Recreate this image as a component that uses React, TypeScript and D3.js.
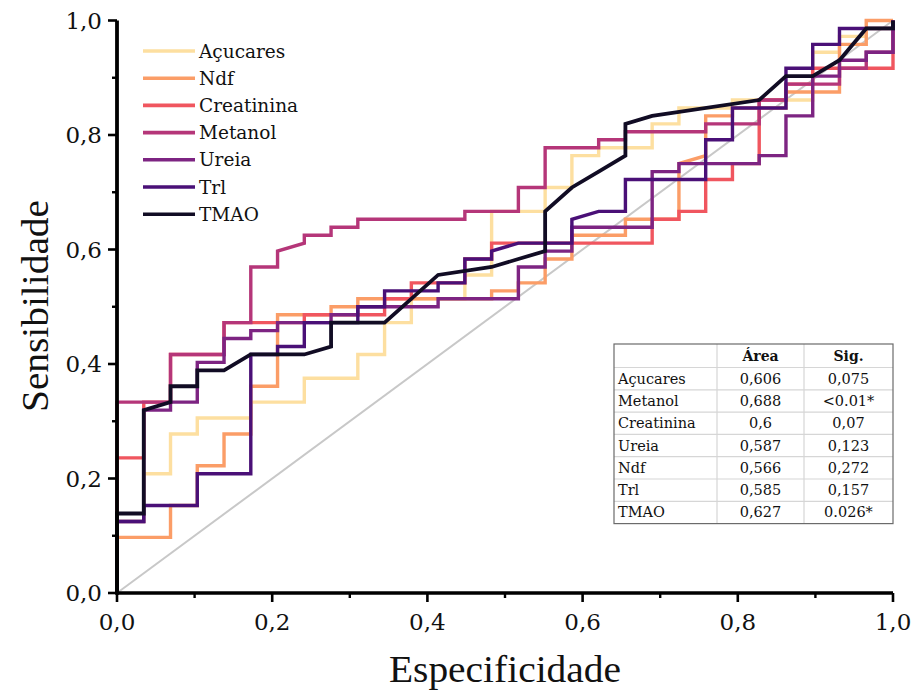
import React from "react";
import * as d3 from "d3";

const W = 917;
const H = 695;

// ROC counts: [false positives, true positives]
const nNegatives = 29;
const nPositives = 72;

const acucares: number[][] = [[0,0],[0,9],[1,9],[1,15],[2,15],[2,20],[3,20],[3,22],[5,22],[5,24],[7,24],[7,27],[9,27],[9,30],[10,30],[10,34],[11,34],[11,37],[13,37],[13,40],[14,40],[14,48],[16,48],[16,51],[17,51],[17,55],[18,55],[18,56],[20,56],[20,59],[21,59],[21,61],[23,61],[23,62],[26,62],[26,68],[27,68],[27,70],[28,70],[28,71],[29,71],[29,72]];
const ndf: number[][] = [[0,0],[0,7],[2,7],[2,11],[3,11],[3,16],[4,16],[4,20],[5,20],[5,26],[6,26],[6,35],[8,35],[8,36],[9,36],[9,37],[14,37],[14,38],[15,38],[15,39],[16,39],[16,42],[17,42],[17,45],[19,45],[19,47],[21,47],[21,54],[22,55],[22,60],[23,60],[23,61],[25,61],[25,63],[27,63],[27,69],[28,69],[28,72],[29,72]];
const creatinina: number[][] = [[0,0],[0,17],[1,17],[1,24],[2,24],[2,30],[4,30],[4,34],[7,34],[7,35],[10,35],[10,37],[11,37],[11,39],[13,39],[13,42],[14,42],[14,44],[20,44],[20,47],[21,47],[21,48],[22,48],[22,52],[23,52],[23,54],[24,54],[24,62],[25,62],[25,64],[26,64],[26,66],[29,66],[29,72]];
const metanol: number[][] = [[0,0],[0,24],[2,24],[2,30],[4,30],[4,34],[5,34],[5,41],[6,41],[6,43],[7,44],[7,45],[8,45],[8,46],[9,46],[9,47],[13,47],[13,48],[15,48],[15,51],[16,51],[16,56],[18,56],[18,57],[19,57],[19,58],[22,58],[22,59],[24,59],[24,62],[25,62],[25,64],[27,64],[27,66],[28,66],[28,68],[29,68],[29,72]];
const ureia: number[][] = [[0,0],[0,9],[1,9],[1,23],[2,23],[2,24],[3,24],[3,29],[4,29],[4,32],[5,32],[5,33],[6,33],[6,34],[8,34],[8,35],[9,35],[9,36],[12,36],[12,37],[15,37],[15,41],[16,41],[16,43],[17,43],[17,46],[20,46],[20,53],[21,53],[21,54],[24,54],[24,55],[25,55],[25,60],[26,60],[26,65],[27,65],[27,67],[28,67],[28,68],[29,68],[29,72]];
const trl: number[][] = [[0,0],[0,9],[1,9],[1,11],[3,11],[3,15],[5,15],[5,30],[6,30],[6,31],[7,31],[7,34],[9,34],[9,36],[10,36],[10,38],[12,38],[12,39],[13,39],[13,42],[14,42],[14,43],[15,44],[17,44],[17,47],[18,48],[19,48],[19,52],[22,52],[22,57],[23,57],[23,61],[25,61],[25,66],[26,66],[26,69],[27,69],[27,71],[29,71],[29,72]];
const tmao: number[][] = [[0,0],[0,10],[1,10],[1,23],[2,24],[2,26],[3,26],[3,28],[4,28],[5,30],[7,30],[8,31],[8,34],[10,34],[12,40],[14,41],[15,42],[16,43],[16,48],[17,51],[18,53],[19,55],[19,59],[20,60],[24,62],[25,65],[26,65],[27,67],[28,71],[29,71],[29,72]];

const seriesNames = ["Açucares", "Ndf", "Creatinina", "Metanol", "Ureia", "Trl", "TMAO"];
const seriesData = [acucares, ndf, creatinina, metanol, ureia, trl, tmao];
const seriesColors = ["#fddfa0", "#fb9d67", "#f0565f", "#b53679", "#7d2482", "#4a1077", "#110c24"];

const tableNames = ["Açucares", "Metanol", "Creatinina", "Ureia", "Ndf", "Trl", "TMAO"];
const tableArea = ["0,606", "0,688", "0,6", "0,587", "0,566", "0,585", "0,627"];
const tableSig = ["0,075", "<0.01*", "0,07", "0,123", "0,272", "0,157", "0.026*"];

const majorTicks = [0, 0.2, 0.4, 0.6, 0.8, 1.0];
const minorTicks = [0.1, 0.3, 0.5, 0.7, 0.9];
const fmt = (v: number) => v.toFixed(1).replace(".", ",");

export default function App() {
  const x = d3.scaleLinear().domain([0, 1]).range([117, 893]);
  const y = d3.scaleLinear().domain([0, 1]).range([593, 20.5]);
  const line = d3
    .line<number[]>()
    .x((d) => x(d[0] / nNegatives))
    .y((d) => y(d[1] / nPositives));

  const serif = "'DejaVu Serif', serif";
  const titleFont = "'Liberation Serif', serif";

  // table geometry
  const tx0 = 614, tx1 = 717, tx2 = 804, tx3 = 893;
  const ty0 = 344, headH = 23.5, rowH = 22.3;
  const ty1 = ty0 + headH;
  const tyEnd = ty1 + rowH * tableNames.length;

  return (
    <svg width={W} height={H} style={{ position: "absolute", left: 0, top: 0, background: "#fff" }}>
      <rect x={0} y={0} width={W} height={H} fill="#fff" />
      {/* diagonal reference */}
      <line x1={x(0)} y1={y(0)} x2={x(1)} y2={y(1)} stroke="#c8c8c8" strokeWidth={2} />
      {/* curves */}
      {seriesData.map((d, i) => (
        <path
          key={seriesNames[i]}
          d={line(d) || ""}
          fill="none"
          stroke={seriesColors[i]}
          strokeWidth={i === 6 ? 3.8 : 3.4}
          strokeLinejoin="miter"
        />
      ))}
      {/* axes */}
      <line x1={x(0)} y1={y(0)} x2={x(1)} y2={y(0)} stroke="#000" strokeWidth={3.6} />
      <line x1={x(0)} y1={y(0) + 1.8} x2={x(0)} y2={y(1)} stroke="#000" strokeWidth={3.8} />
      {majorTicks.map((t) => (
        <g key={"mx" + t}>
          <line x1={x(t)} x2={x(t)} y1={y(0)} y2={y(0) + 9} stroke="#000" strokeWidth={2.6} />
          <line x1={x(0)} x2={x(0) - 9} y1={y(t)} y2={y(t)} stroke="#000" strokeWidth={2.6} />
          <text x={x(t)} y={630} textAnchor="middle" fontFamily={serif} fontSize={23} fill="#111">
            {fmt(t)}
          </text>
          <text x={102} y={y(t)} textAnchor="end" dominantBaseline="central" fontFamily={serif} fontSize={23} fill="#111">
            {fmt(t)}
          </text>
        </g>
      ))}
      {minorTicks.map((t) => (
        <g key={"mn" + t}>
          <line x1={x(t)} x2={x(t)} y1={y(0)} y2={y(0) + 5} stroke="#000" strokeWidth={2.4} />
          <line x1={x(0)} x2={x(0) - 5} y1={y(t)} y2={y(t)} stroke="#000" strokeWidth={2.4} />
        </g>
      ))}
      {/* axis titles */}
      <text x={505} y={682} textAnchor="middle" fontFamily={titleFont} fontSize={37} textLength={232} lengthAdjust="spacingAndGlyphs" fill="#111">
        Especificidade
      </text>
      <text
        transform={`translate(48,306) rotate(-90)`}
        textAnchor="middle"
        fontFamily={titleFont}
        fontSize={37}
        textLength={212}
        lengthAdjust="spacingAndGlyphs"
        fill="#111"
      >
        Sensibilidade
      </text>
      {/* legend */}
      {seriesNames.map((n, i) => (
        <g key={"lg" + n}>
          <line x1={143} x2={195} y1={51 + i * 27.2} y2={51 + i * 27.2} stroke={seriesColors[i]} strokeWidth={3.6} />
          <text x={199} y={51 + i * 27.2} dominantBaseline="central" fontFamily={serif} fontSize={18.5} fill="#111">
            {n}
          </text>
        </g>
      ))}
      {/* table */}
      <rect x={tx0} y={ty0} width={tx3 - tx0} height={tyEnd - ty0} fill="#fff" stroke="none" />
      {tableNames.map((_, i) => (
        <line key={"hl" + i} x1={tx0} x2={tx3} y1={ty1 + rowH * i} y2={ty1 + rowH * i} stroke="#d6d6d6" strokeWidth={1.2} />
      ))}
      <line x1={tx1} x2={tx1} y1={ty0} y2={tyEnd} stroke="#d6d6d6" strokeWidth={1.2} />
      <line x1={tx2} x2={tx2} y1={ty0} y2={tyEnd} stroke="#d6d6d6" strokeWidth={1.2} />
      <rect x={tx0} y={ty0} width={tx3 - tx0} height={tyEnd - ty0} fill="none" stroke="#6b6b6b" strokeWidth={1.2} />
      <text x={(tx1 + tx2) / 2} y={ty0 + headH / 2} textAnchor="middle" dominantBaseline="central" fontFamily={serif} fontWeight="bold" fontSize={14} fill="#111">
        Área
      </text>
      <text x={(tx2 + tx3) / 2} y={ty0 + headH / 2} textAnchor="middle" dominantBaseline="central" fontFamily={serif} fontWeight="bold" fontSize={14} fill="#111">
        Sig.
      </text>
      {tableNames.map((n, i) => {
        const cy = ty1 + rowH * i + rowH / 2;
        return (
          <g key={"tr" + n}>
            <text x={tx0 + 4} y={cy} dominantBaseline="central" fontFamily={serif} fontSize={14.5} fill="#111">
              {n}
            </text>
            <text x={(tx1 + tx2) / 2} y={cy} textAnchor="middle" dominantBaseline="central" fontFamily={serif} fontSize={14.5} fill="#111">
              {tableArea[i]}
            </text>
            <text x={(tx2 + tx3) / 2} y={cy} textAnchor="middle" dominantBaseline="central" fontFamily={serif} fontSize={14.5} fill="#111">
              {tableSig[i]}
            </text>
          </g>
        );
      })}
    </svg>
  );
}
